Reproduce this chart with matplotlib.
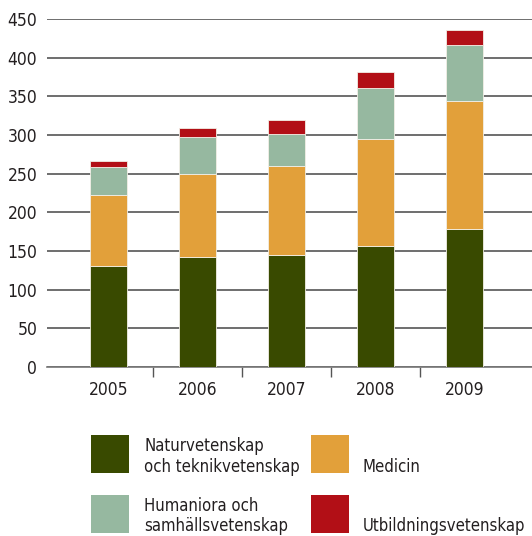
import matplotlib
matplotlib.use('Agg')
import matplotlib.pyplot as plt
from matplotlib.patches import Rectangle
import numpy as np

plt.rcParams['font.family'] = ['DejaVu Sans']
plt.rcParams['font.stretch'] = 'condensed'

years = ['2005', '2006', '2007', '2008', '2009']
natur_teknik = [130, 142, 145, 157, 178]
medicin = [93, 108, 115, 138, 166]
humaniora = [36, 48, 41, 66, 72]
utbildning = [7, 11, 18, 21, 20]

series = [natur_teknik, medicin, humaniora, utbildning]
colors = ['#394a00', '#e2a03a', '#96b8a0', '#b20f16']
labels = [['Naturvetenskap', 'och teknikvetenskap'], ['', 'Medicin'],
          ['Humaniora och', 'samhällsvetenskap'], ['', 'Utbildningsvetenskap']]

fig = plt.figure(figsize=(5.32, 5.36), dpi=100)
ax = fig.add_axes([0.0883, 0.3153, 0.9117, 0.6493])

x = np.arange(len(years))
bottom = np.zeros(len(years))
for vals, col in zip(series, colors):
    ax.bar(x, vals, width=0.416, bottom=bottom, color=col,
           edgecolor='#f2efe6', linewidth=0.6, zorder=3)
    bottom += np.array(vals)

ax.set_ylim(0, 450)
ax.set_xlim(-0.691, 4.758)
ax.set_yticks(range(0, 451, 50))
ax.yaxis.grid(True, color='#555555', linewidth=1.2, zorder=0)
ax.set_axisbelow(True)

for side in ['top', 'right', 'left']:
    ax.spines[side].set_visible(False)
ax.spines['bottom'].set_color('#777777')
ax.spines['bottom'].set_linewidth(1.2)

# group separators as major ticks, year labels as minor ticks
ax.set_xticks(x[:-1] + 0.5)
ax.set_xticklabels([])
ax.tick_params(axis='x', length=7, width=1, color='#555555', direction='out')
ax.tick_params(axis='y', length=0, pad=7, labelsize=12.5, labelcolor='#231f20')
ax.set_xticks(x, minor=True)
ax.set_xticklabels(years, minor=True, fontsize=12.5, color='#231f20')
ax.tick_params(axis='x', which='minor', length=0, pad=10)

# legend drawn in figure pixels, one text per line
W, H = 532, 536
boxes = [(91, 435), (311, 435), (91, 495), (311, 495)]
text_x = [144, 363, 144, 363]
baselines = [(451, 472), (451, 472), (511, 531), (511, 531)]
for (bx, by), col, lines, tx, bl in zip(boxes, colors, labels, text_x, baselines):
    fig.patches.append(Rectangle((bx / W, 1 - (by + 38) / H), 38 / W, 38 / H,
                                 transform=fig.transFigure, facecolor=col,
                                 edgecolor='none'))
    for line, ty in zip(lines, bl):
        if line:
            fig.text(tx / W, 1 - ty / H, line, fontsize=12, color='#231f20',
                     va='baseline', ha='left')

fig.savefig('out.png', dpi=100)
